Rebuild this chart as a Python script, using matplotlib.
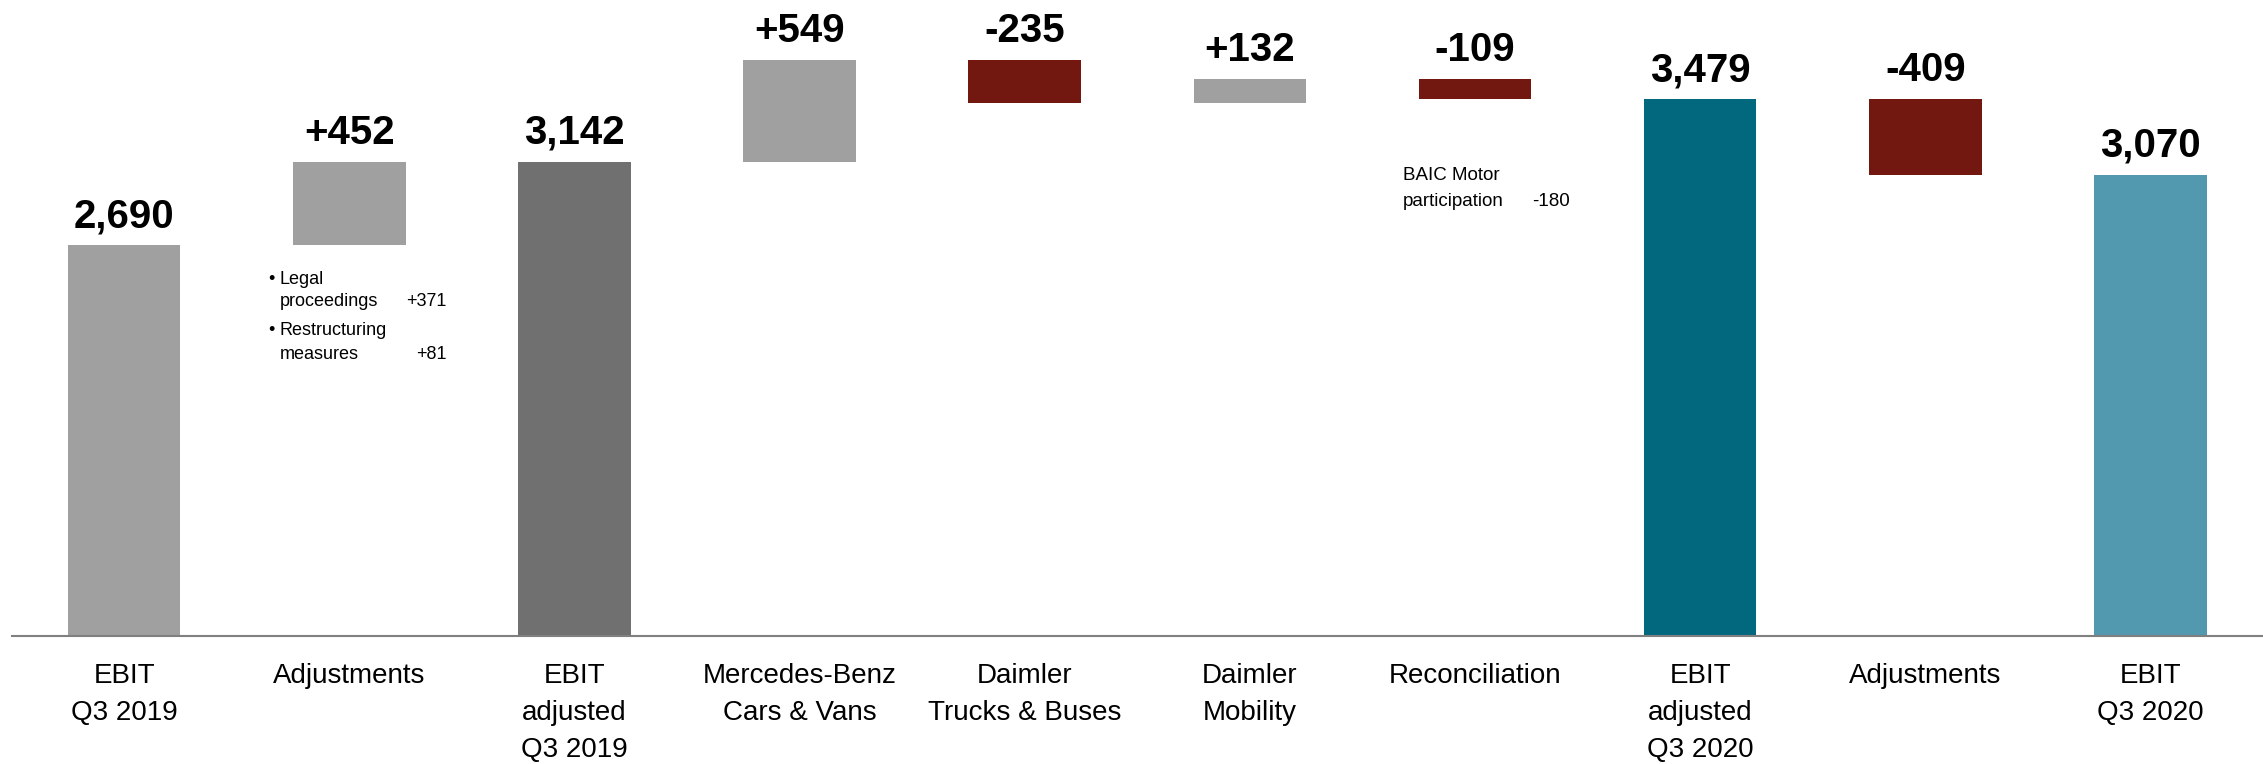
import matplotlib
matplotlib.use("Agg")
import matplotlib.pyplot as plt
import numpy as np

plt.rcParams['font.family'] = ['Liberation Sans', 'DejaVu Sans']

categories = ["EBIT\nQ3 2019", "Adjustments", "EBIT\nadjusted\nQ3 2019",
              "Mercedes-Benz\nCars & Vans", "Daimler\nTrucks & Buses",
              "Daimler\nMobility", "Reconciliation", "EBIT\nadjusted\nQ3 2020",
              "Adjustments", "EBIT\nQ3 2020"]
values = [2690, 452, 3142, 549, -235, 132, -109, 3479, -409, 3070]
is_total = [True, False, True, False, False, False, False, True, False, True]
value_labels = ["2,690", "+452", "3,142", "+549", "-235", "+132", "-109",
                "3,479", "-409", "3,070"]
colors = ["#a0a0a0", "#a0a0a0", "#707070", "#a0a0a0", "#721811", "#a0a0a0",
          "#721811", "#02687e", "#721811", "#5298ae"]

adj_2019_items = [("Legal", "proceedings"), ("Restructuring", "measures")]
adj_2019_values = ["+371", "+81"]
recon_item = ("BAIC Motor", "participation")
recon_value = "-180"

fig = plt.figure(figsize=(22.63, 7.64), dpi=100)
ax = fig.add_axes([0.0051, 0.168, 0.9949, 0.832])

x = np.arange(len(categories))
bottoms = []
heights = []
running = 0
for v, t in zip(values, is_total):
    if t:
        bottoms.append(0)
        heights.append(v)
        running = v
    else:
        bottoms.append(running if v >= 0 else running + v)
        heights.append(abs(v))
        running += v

ax.bar(x, heights, bottom=bottoms, width=0.5, color=colors, zorder=2)

for xi, b, h, lab in zip(x, bottoms, heights, value_labels):
    ax.annotate(lab, (xi, b + h), xytext=(0, 13), textcoords="offset points",
                ha="center", va="baseline", fontsize=29, fontweight="bold",
                color="black")

ax.set_xlim(-0.5, len(categories) - 0.5)
ax.set_ylim(585, 4014)

ax.set_xticks(x)
ax.set_xticklabels(categories, fontsize=20, linespacing=1.55, va="top")
ax.tick_params(axis="x", length=0, pad=20)
ax.set_yticks([])
for s in ["top", "left", "right"]:
    ax.spines[s].set_visible(False)
ax.spines["bottom"].set_color("#808080")
ax.spines["bottom"].set_linewidth(1.5)

# Notes for Adjustments 2019 (category index 1)
note_lines_y = [(2480, 2362), (2206, 2075)]
for (first, second), val, (y1, y2) in zip(adj_2019_items, adj_2019_values, note_lines_y):
    ax.text(1 - 0.361, y1, "\u2022", fontsize=13, va="baseline", ha="left")
    ax.text(1 - 0.308, y1, first, fontsize=13, va="baseline", ha="left")
    ax.text(1 - 0.308, y2, second, fontsize=13, va="baseline", ha="left")
    ax.text(1 + 0.433, y2, val, fontsize=13, va="baseline", ha="right")

# Note for Reconciliation (category index 6)
ax.text(6 - 0.320, 3045, recon_item[0], fontsize=13.5, va="baseline", ha="left")
ax.text(6 - 0.320, 2905, recon_item[1], fontsize=13.5, va="baseline", ha="left")
ax.text(6 + 0.422, 2905, recon_value, fontsize=13.5, va="baseline", ha="right")

fig.savefig("out.png", dpi=100)
